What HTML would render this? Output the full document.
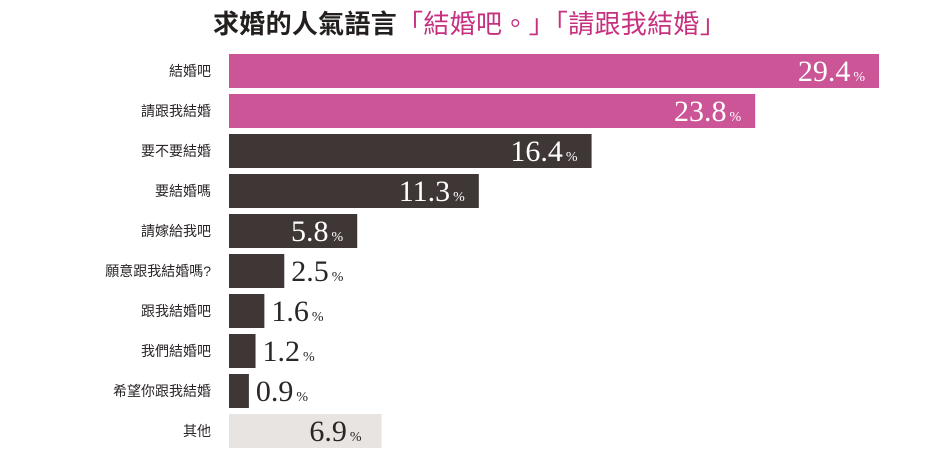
<!DOCTYPE html>
<html><head><meta charset="utf-8"><style>
body{margin:0;width:939px;height:449px;background:#fff;overflow:hidden;position:relative;font-family:"Liberation Sans","Noto Sans CJK TC",sans-serif}
#title{position:absolute;left:0;width:939px;top:4px;text-align:center;font-size:26px;font-weight:bold;color:#231f1e;white-space:nowrap;letter-spacing:0.3px;font-family:"Liberation Sans","Noto Sans CJK TC",sans-serif}
#title span{color:#c7307f;font-weight:normal}
svg{position:absolute;left:0;top:0}
</style></head><body>
<div id="title">求婚的人氣語言<span>「結婚吧。」「請跟我結婚」</span></div>
<svg id="chart" width="939" height="449"></svg>
<script>
const categories=["結婚吧","請跟我結婚","要不要結婚","要結婚嗎","請嫁給我吧","願意跟我結婚嗎?","跟我結婚吧","我們結婚吧","希望你跟我結婚","其他"];
const values=[29.4,23.8,16.4,11.3,5.8,2.5,1.6,1.2,0.9,6.9];
const groups=["top","top","mid","mid","mid","mid","mid","mid","mid","other"];
const NS="http://www.w3.org/2000/svg";
const svg=document.getElementById('chart');
const x0=229, scale=650/29.4, top0=54, step=40, bh=34;
const xs=v=>v*scale;
const ys=i=>top0+i*step;
const fills={top:"#cb5596",mid:"#3e3735",other:"#e7e4e2"};
function mk(t,a){const e=document.createElementNS(NS,t);for(const k in a)e.setAttribute(k,a[k]);svg.appendChild(e);return e;}
categories.forEach((c,i)=>{
  const y=ys(i),w=xs(values[i]);
  const lab=mk('text',{x:211,y:y+bh/2+5,'text-anchor':'end','font-size':14,fill:'#2a2625','font-family':'"Liberation Sans","Noto Sans CJK TC",sans-serif'});
  lab.textContent=c;
  
  
  const r=mk('rect',{x:x0,y:y,width:w,height:bh,fill:fills[groups[i]]});
  
  
  const inside=w>100;
  const t=mk('text',{y:y+bh/2+10,'font-family':'"Liberation Serif",serif','font-size':30,fill:(inside&&groups[i]!=='other')?'#fff':'#2a2625'});
  if(inside){t.setAttribute('x',groups[i]==='other'?x0+w-20:x0+w-14);t.setAttribute('text-anchor','end');}
  else{t.setAttribute('x',x0+w+7);t.setAttribute('text-anchor','start');}
  
  
  const n=document.createElementNS(NS,'tspan');n.textContent=values[i].toFixed(1);t.appendChild(n);
  const p=document.createElementNS(NS,'tspan');p.setAttribute('font-size',14);p.setAttribute('dx',3);p.textContent='%';t.appendChild(p);
});
</script>
</body></html>
